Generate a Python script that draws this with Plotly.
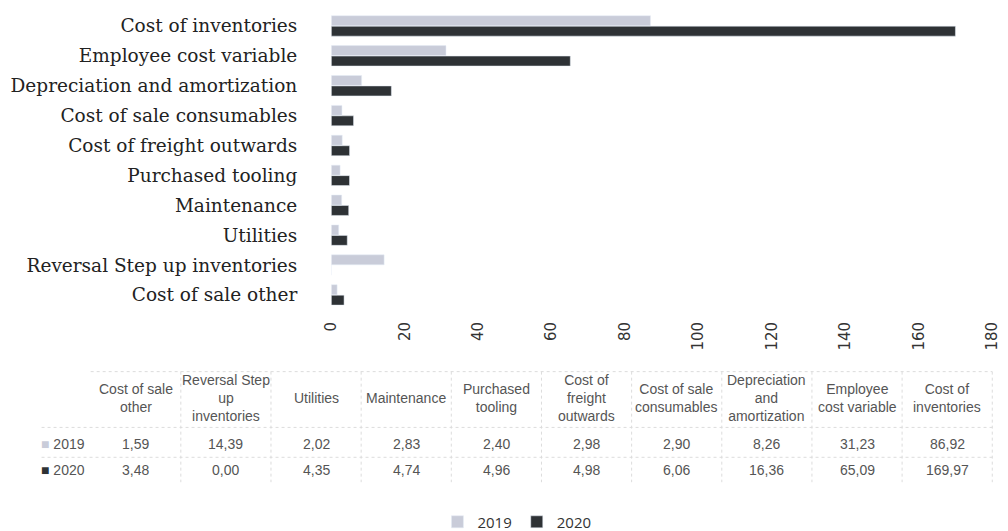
import plotly.graph_objects as go

categories = ["Cost of sale other", "Reversal Step up inventories", "Utilities", "Maintenance",
              "Purchased tooling", "Cost of freight outwards", "Cost of sale consumables",
              "Depreciation and amortization", "Employee cost variable", "Cost of inventories"]
header_labels = ["Cost of sale<br>other", "Reversal Step<br>up<br>inventories", "Utilities", "Maintenance",
                 "Purchased<br>tooling", "Cost of<br>freight<br>outwards", "Cost of sale<br>consumables",
                 "Depreciation<br>and<br>amortization", "Employee<br>cost variable", "Cost of<br>inventories"]
series_names = ["2019", "2020"]
values_2019 = [1.59, 14.39, 2.02, 2.83, 2.40, 2.98, 2.90, 8.26, 31.23, 86.92]
values_2020 = [3.48, 0.00, 4.35, 4.74, 4.96, 4.98, 6.06, 16.36, 65.09, 169.97]
x_ticks = [0, 20, 40, 60, 80, 100, 120, 140, 160, 180]

W, H = 1008, 531
c2019 = "#c9ccd9"
c2020 = "#2e3235"
colors = [c2019, c2020]

fig = go.Figure()
fig.add_trace(go.Bar(y=categories, x=values_2020, orientation="h", name="2020",
                     marker=dict(color=c2020), legendrank=2))
fig.add_trace(go.Bar(y=categories, x=values_2019, orientation="h", name="2019",
                     marker=dict(color=c2019), legendrank=1))


def fmt(v):
    return f"{v:.2f}".replace(".", ",")


def px(x):
    return x / W


def py(y):
    return 1 - y / H


# ---- data table drawn below the chart ----
tab_left, tab_right = 75, 993
tab_top, tab_hdr_bottom, tab_row_split, tab_bottom = 365, 421, 451, 476
col_w = (tab_right - tab_left) / len(categories)
tfont = dict(family="Liberation Sans, Arial, sans-serif", size=14, color="#555")
line_style = dict(color="#dcdcdc", width=1, dash="dot")

annotations = []
shapes = []
for i, (lab, a, b) in enumerate(zip(header_labels, values_2019, values_2020)):
    cx = tab_left + col_w * (i + 0.5)
    annotations.append(dict(x=px(cx), y=py(391), xref="paper", yref="paper", text=lab,
                            showarrow=False, font=tfont, align="center", xanchor="center", yanchor="middle"))
    for val, ry in ((a, 438), (b, 464)):
        annotations.append(dict(x=px(cx), y=py(ry), xref="paper", yref="paper", text=fmt(val),
                                showarrow=False, font=tfont, xanchor="center", yanchor="middle"))
    shapes.append(dict(type="line", xref="paper", yref="paper", x0=px(tab_left + col_w * (i + 1)),
                       x1=px(tab_left + col_w * (i + 1)), y0=py(tab_top), y1=py(tab_bottom), line=line_style))

for name, col, ry in zip(series_names, colors, (438, 464)):
    annotations.append(dict(x=px(22), y=py(ry), xref="paper", yref="paper",
                            text=f"<span style=\"color:{col}\">■</span> {name}",
                            showarrow=False, font=tfont, xanchor="left", yanchor="middle"))

for yy in (tab_top, tab_hdr_bottom, tab_row_split):
    shapes.append(dict(type="line", xref="paper", yref="paper", x0=px(tab_left - 50 if yy != tab_top else tab_left),
                       x1=px(tab_right), y0=py(yy), y1=py(yy), line=line_style))

fig.update_layout(
    width=W, height=H,
    paper_bgcolor="white", plot_bgcolor="white",
    barmode="group", bargap=0.3, bargroupgap=0.05,
    margin=dict(l=0, r=0, t=0, b=0),
    showlegend=True,
    legend=dict(orientation="h", x=0.505, xanchor="center", y=py(516), yanchor="middle",
                font=dict(family="Open Sans, sans-serif", size=15, color="#333"),
                traceorder="normal", itemwidth=30),
    xaxis=dict(range=[0, 180], tickvals=x_ticks, tickangle=-90, showgrid=False, zeroline=False,
               showline=False, tickfont=dict(family="DejaVu Sans, sans-serif", size=15, color="#333"),
               domain=[px(320), px(993)], ticklabelstandoff=8),
    yaxis=dict(domain=[py(303), py(3)], showgrid=False, ticks="", tickmode="array",
               tickvals=categories, ticklabelstandoff=33,
               tickfont=dict(family="DejaVu Serif, serif", size=18.5, color="#222"),
               categoryorder="array", categoryarray=categories),
    annotations=annotations,
    shapes=shapes,
)

fig.write_html("out.html")
